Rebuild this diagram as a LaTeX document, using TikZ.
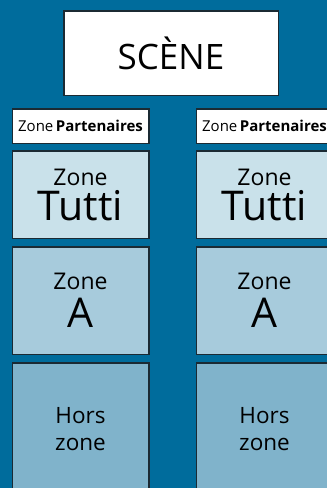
\documentclass[tikz,border=0pt]{standalone}
\usepackage{fontspec}
\setmainfont{Open Sans}
\usetikzlibrary{positioning}
\definecolor{fondbleu}{HTML}{006C9C}
\definecolor{bordure}{HTML}{1B2A33}
\definecolor{tuttibleu}{HTML}{C9E1EA}
\definecolor{zoneableu}{HTML}{A7CBDC}
\definecolor{horsbleu}{HTML}{80B3CB}

\begin{document}
\begin{tikzpicture}[
            x=1pt, y=-1pt,
            node distance=7pt,
            basebox/.style={draw=bordure, line width=1.5pt, inner sep=0pt, align=center, minimum width=136.5pt},
            scenebox/.style={basebox, fill=white, minimum width=214.5pt, minimum height=84.5pt, font=\fontsize{35}{37}\selectfont},
            partbox/.style={basebox, fill=white, minimum height=34.5pt, font=\fontsize{15}{17}\selectfont},
            tuttibox/.style={basebox, fill=tuttibleu, minimum height=87.5pt, font=\fontsize{23}{35}\selectfont},
            zoneabox/.style={basebox, fill=zoneableu, minimum height=107.5pt, font=\fontsize{23}{38}\selectfont},
            horsbox/.style={basebox, fill=horsbleu, minimum height=132pt, font=\fontsize{22.5}{27}\selectfont},
            ]
            \useasboundingbox (0,0) rectangle (327,488);
            \fill[fondbleu] (0,0) rectangle (327,488);
            \clip (0,0) rectangle (327,488);

            \node[scenebox]  (scene) at (171,53) {SCÈNE};

            % colonne gauche
            \node[partbox]   (partG) at (80.5,126) {Zone\,\textbf{Partenaires}};
            \node[tuttibox]  (tuttiG) [below=6pt of partG] {Zone\\{\fontsize{41}{35}\selectfont Tutti}};
            \node[zoneabox]  (zoneaG) [below=of tuttiG] {Zone\\{\fontsize{41}{38}\selectfont A}};
            \node[horsbox]   (horsG) [below=of zoneaG] {Hors\\zone};

            % colonne droite
            \node[partbox]   (partD) [right=46pt of partG] {Zone\,\textbf{Partenaires}};
            \node[tuttibox]  (tuttiD) [below=6pt of partD] {Zone\\{\fontsize{41}{35}\selectfont Tutti}};
            \node[zoneabox]  (zoneaD) [below=of tuttiD] {Zone\\{\fontsize{41}{38}\selectfont A}};
            \node[horsbox]   (horsD) [below=of zoneaD] {Hors\\zone};
        \end{tikzpicture}
\end{document}
